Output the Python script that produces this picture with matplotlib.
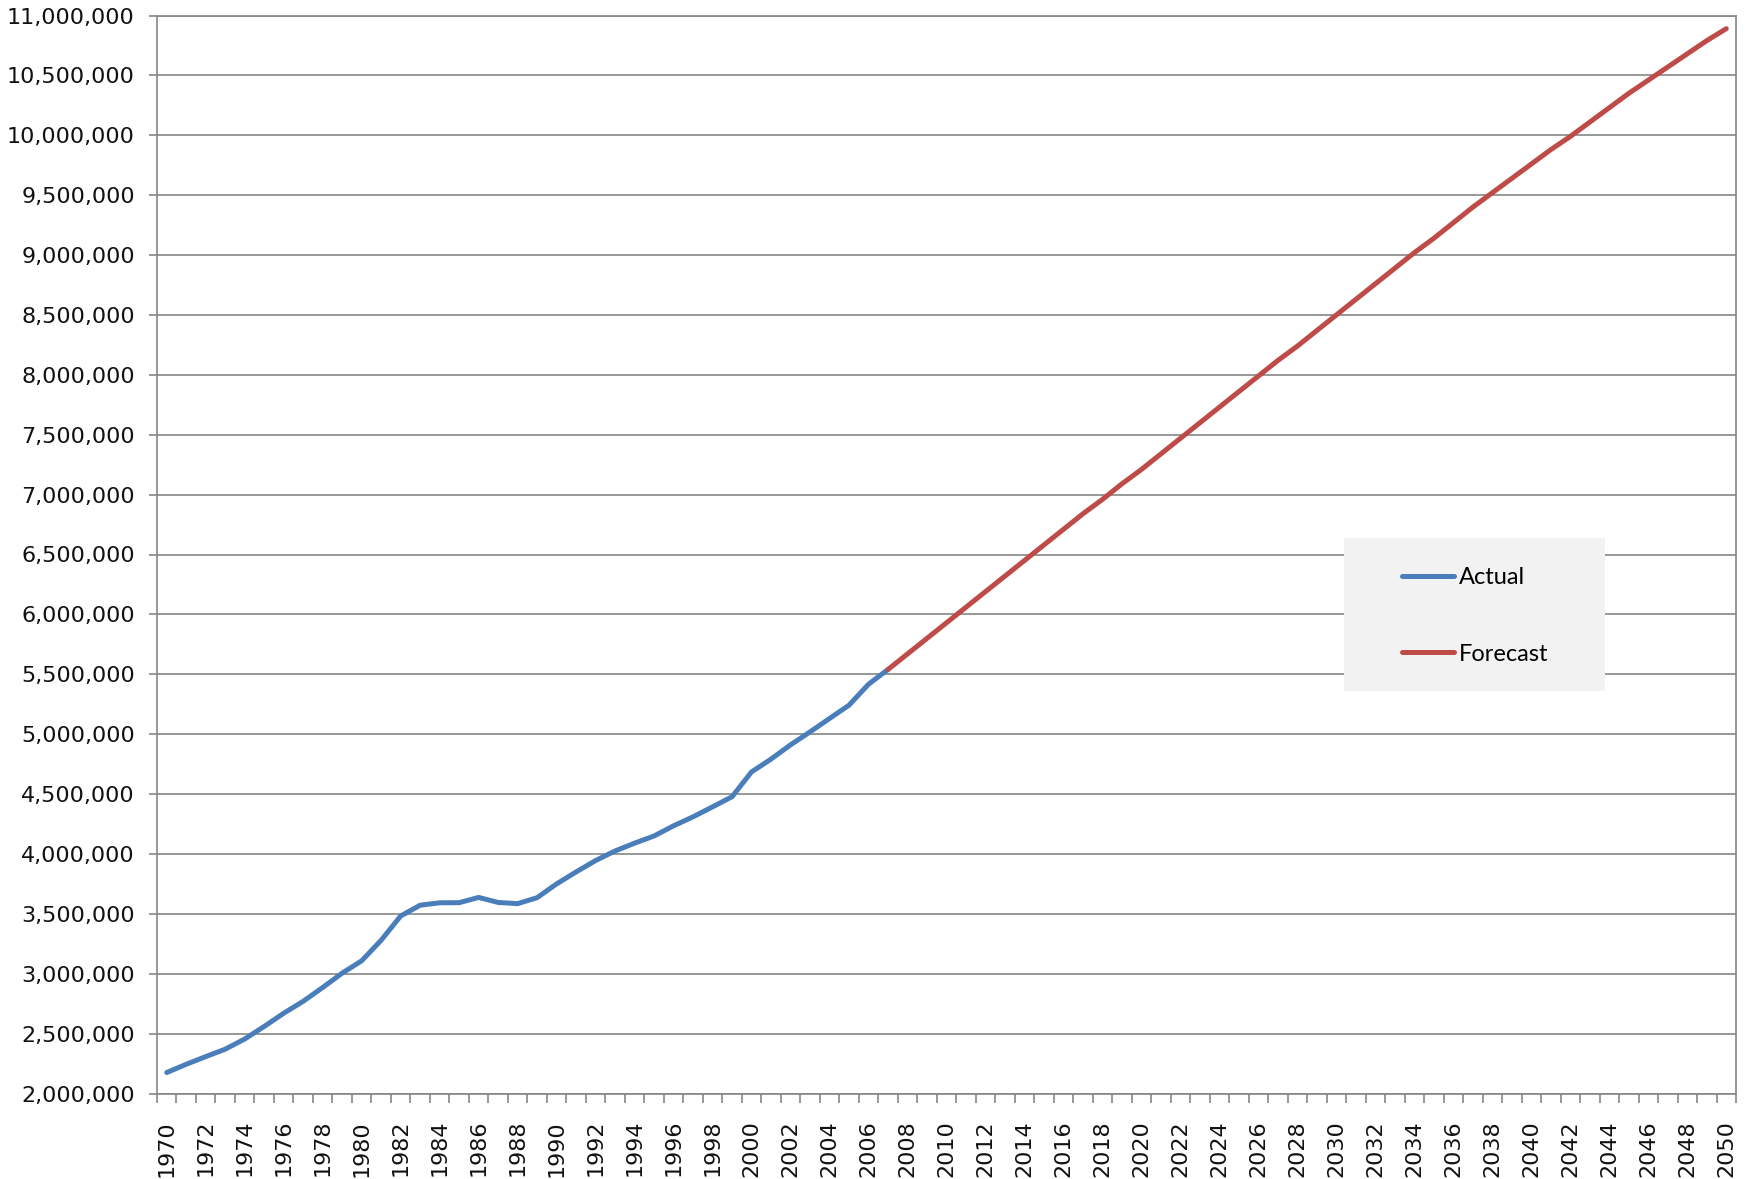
import matplotlib
matplotlib.use("Agg")
import matplotlib.pyplot as plt
from matplotlib.ticker import FixedLocator, FuncFormatter
from matplotlib.patches import Rectangle

# ---- data ----
years = list(range(1970, 2051))

actual_years = list(range(1970, 2008))
actual = [2175000, 2244000, 2308000, 2370000, 2455000, 2560000, 2670000, 2770000,
          2885000, 3005000, 3108000, 3280000, 3482000, 3572000, 3592000, 3593000,
          3637000, 3595000, 3585000, 3635000, 3750000, 3850000, 3945000, 4025000,
          4090000, 4150000, 4235000, 4310000, 4393000, 4478000, 4685000, 4792000,
          4911000, 5019000, 5131000, 5242000, 5417000, 5540000]

forecast_years = list(range(2007, 2051))
forecast = [5540000, 5670000, 5800000, 5930000, 6060000, 6190000, 6320000, 6450000,
            6580000, 6710000, 6840000, 6960000, 7090000, 7210000, 7340000, 7470000,
            7600000, 7730000, 7860000, 7990000, 8120000, 8240000, 8370000, 8500000,
            8630000, 8760000, 8890000, 9020000, 9140000, 9270000, 9400000, 9520000,
            9640000, 9760000, 9880000, 9990000, 10110000, 10230000, 10350000, 10460000,
            10570000, 10680000, 10790000, 10890000]

series_names = ["Actual", "Forecast"]
series_colors = ["#4A7EBB", "#BE4B48"]

y_ticks = list(range(2000000, 11000001, 500000))
x_label_years = list(range(1970, 2051, 2))

# ---- figure ----
fig = plt.figure(figsize=(17.55, 11.79), dpi=100)
ax = fig.add_axes([157 / 1755, 1 - 1093.5 / 1179, (1736 - 157) / 1755, (1093.5 - 15.5) / 1179])

pos = {y: i for i, y in enumerate(years)}
ax.plot([pos[y] for y in actual_years], actual, color=series_colors[0], lw=3.6,
        solid_capstyle="round", solid_joinstyle="round", label=series_names[0], zorder=3)
ax.plot([pos[y] for y in forecast_years], forecast, color=series_colors[1], lw=3.6,
        solid_capstyle="round", solid_joinstyle="round", label=series_names[1], zorder=3)

ax.set_xlim(-0.5, len(years) - 0.5)
ax.set_ylim(y_ticks[0], y_ticks[-1])

grid_col = "#868686"
for s in ax.spines.values():
    s.set_color(grid_col)
    s.set_linewidth(1.2)

ax.yaxis.set_major_locator(FixedLocator(y_ticks))
ax.yaxis.set_major_formatter(FuncFormatter(lambda v, p: f"{v:,.0f}"))
ax.grid(axis="y", color=grid_col, lw=1.2, zorder=0)
ax.set_axisbelow(True)

ax.xaxis.set_major_locator(FixedLocator([pos[y] for y in x_label_years]))
ax.set_xticklabels([str(y) for y in x_label_years], rotation=90)
ax.xaxis.set_minor_locator(FixedLocator([i - 0.5 for i in range(len(years) + 1)]))

ax.tick_params(axis="x", which="major", length=0, pad=19, labelsize=16, labelcolor="#111111")
ax.tick_params(axis="x", which="minor", length=6.5, width=1.2, color=grid_col, direction="out")
ax.tick_params(axis="y", which="major", length=6, width=1.2, color=grid_col, pad=10,
               labelsize=16, labelcolor="#111111")

# legend background box
bg = Rectangle((1344 / 1755, 1 - 691 / 1179), (1605 - 1344) / 1755, (691 - 538) / 1179,
               transform=fig.transFigure, facecolor="#F2F2F2", edgecolor="none", zorder=4)
ax.add_patch(bg)
bg.set_clip_on(False)

leg = ax.legend(loc="center left", bbox_to_anchor=(1390 / 1755, 1 - 616 / 1179),
                bbox_transform=fig.transFigure, frameon=False, borderpad=0,
                handlelength=2.2, handletextpad=0.2, labelspacing=2.35,
                prop={"family": "Lato", "size": 17})
leg.set_zorder(5)

fig.savefig("out.png", dpi=100)
